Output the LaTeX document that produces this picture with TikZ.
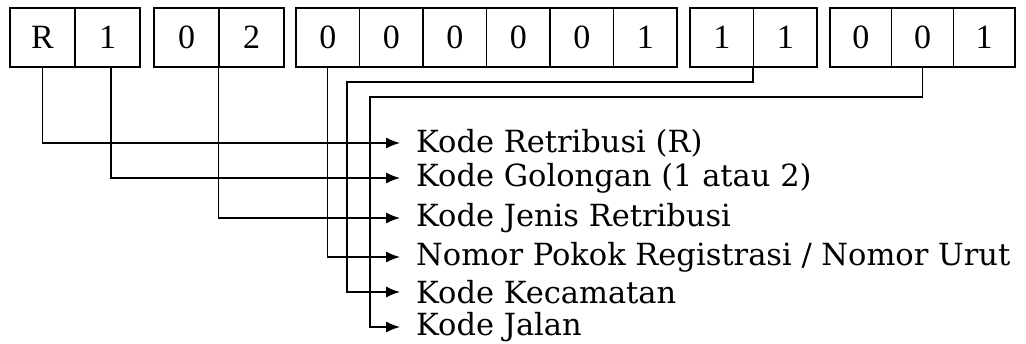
\documentclass[tikz,border=0pt]{standalone}
\usepackage{fontspec}
\setmainfont{Liberation Serif}
\newfontfamily\labelfont{DejaVu Serif}
\usetikzlibrary{arrows.meta}

\begin{document}
\begin{tikzpicture}[x=1pt,y=-1pt]
        \useasboundingbox (0,0) rectangle (1026,344);
        \begin{scope}[every node/.style={draw, line width=1.2pt, minimum height=59pt, inner sep=0, font=\fontsize{34}{36}\selectfont}]
                % retribusi dan golongan
                \node [minimum width=65pt] (R) at (42.5,37.5) {R};
                \node [minimum width=65pt] (G) at (107.5,37.5) {1};
                % jenis retribusi
                \node [minimum width=65pt] (J1) at (186.5,37.5) {0};
                \node [minimum width=65pt] (J2) at (251.5,37.5) {2};
                % nomor urut
                \node [minimum width=63.5pt] (N1) at (327.75,37.5) {0};
                \node [minimum width=63.5pt] (N2) at (391.25,37.5) {0};
                \node [minimum width=63.5pt] (N3) at (454.75,37.5) {0};
                \node [minimum width=63.5pt] (N4) at (518.25,37.5) {0};
                \node [minimum width=63.5pt] (N5) at (581.75,37.5) {0};
                \node [minimum width=63.5pt] (N6) at (645.25,37.5) {1};
                % kecamatan
                \node [minimum width=63.5pt] (K1) at (721.75,37.5) {1};
                \node [minimum width=63.5pt] (K2) at (785.25,37.5) {1};
                % jalan
                \node [minimum width=61.7pt] (L1) at (860.8,37.5) {0};
                \node [minimum width=61.7pt] (L2) at (922.5,37.5) {0};
                \node [minimum width=61.7pt] (L3) at (984.2,37.5) {1};
        \end{scope}
        \begin{scope}[every node/.style={anchor=west, inner ysep=0, inner xsep=16pt, font=\labelfont\fontsize{30.5}{32}\selectfont}]
                \node (kRet) at (400,143) {Kode Retribusi (R)};
                \node (kGol) at (400,178) {Kode Golongan (1 atau 2)};
                \node (kJen) at (400,218) {Kode Jenis Retribusi};
                \node (kNom) at (400,257) {Nomor Pokok Registrasi / Nomor Urut};
                \node (kKec) at (400,292) {Kode Kecamatan};
                \node (kJal) at (400,327) {Kode Jalan};
        \end{scope}
        \coordinate (kecBend) at (347,82);
        \coordinate (jalBend) at (370,97);
        \begin{scope}[every path/.style={line width=1.4pt, -{Latex[length=14pt,width=11pt]}}]
                \draw (R.south) |- (kRet.west);
                \draw ([xshift=3.5pt]G.south) |- (kGol.west);
                \draw (J2.south west) |- (kJen.west);
                \draw (N1.south) |- (kNom.west);
                \draw (K2.south west) |- (kecBend) |- (kKec.west);
                \draw (L2.south) |- (jalBend) |- (kJal.west);
        \end{scope}
\end{tikzpicture}
\end{document}
